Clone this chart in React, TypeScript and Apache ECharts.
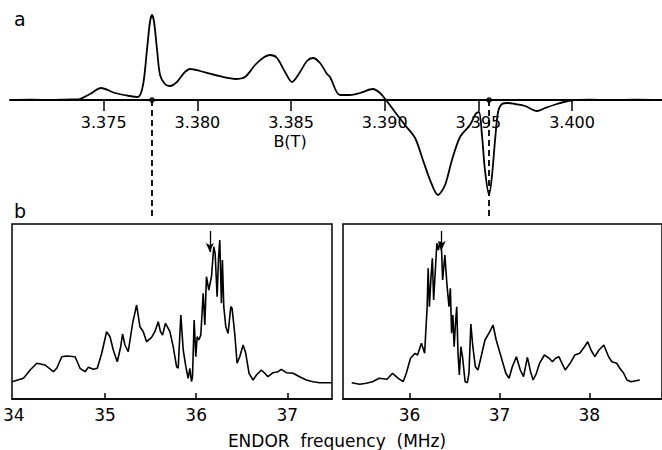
import React, { useEffect, useRef } from 'react';
import * as echarts from 'echarts';

// (a) EPR spectrum: magnetic field (T) and signal
const eprField = [
  3.37, 3.3711, 3.3722, 3.3733, 3.37358, 3.37427, 3.37486, 3.3756, 3.3764, 3.37683,
  3.3771, 3.37731, 3.37747, 3.37758, 3.37769, 3.37785, 3.37801, 3.37827, 3.37854, 3.37891,
  3.37929, 3.37961, 3.38014, 3.38094, 3.38201, 3.38254, 3.38308, 3.3835, 3.38388, 3.38425,
  3.38468, 3.38505, 3.38548, 3.38585, 3.38617, 3.38655, 3.38692, 3.38708, 3.38761, 3.38815,
  3.38868, 3.38937, 3.38975, 3.39007, 3.39055, 3.39108, 3.39162, 3.39204, 3.39242, 3.39284,
  3.39322, 3.39359, 3.39402, 3.39455, 3.39485, 3.39503, 3.39519, 3.39535, 3.39557, 3.39573,
  3.39589, 3.39605, 3.39626, 3.39658, 3.39695, 3.39749, 3.39813, 3.39856, 3.3992, 3.39994,
  3.40096, 3.40202, 3.40336, 3.4048,
];
const eprSignal = [
  0, 0.4, 0, 0.5, 0.5, 6, 12, 7, 4, 3,
  15, 50, 78, 85, 78, 50, 25, 16, 14, 18,
  27, 31, 29, 25, 21, 23, 35, 42, 45, 42,
  28, 18, 28, 39, 42, 37, 26, 23, 5, 5,
  7, 11, 7, 0, -12, -25, -38, -60, -80, -95,
  -85, -60, -37, -25, -14, -12, -35, -70, -95, -75,
  -40, -12, -4, -3, -4, -6, -11, -8, -4, -0.5,
  0.3, 0, 0.4, 0,
];
const eprTicks = [3.375, 3.38, 3.385, 3.39, 3.395, 3.4];
const selectedFields = [3.37758, 3.39557];

// (b) ENDOR spectra
const endorLeftFreq = [
  33.98, 34.106, 34.179, 34.252, 34.343, 34.434, 34.471, 34.526, 34.58, 34.672,
  34.726, 34.781, 34.818, 34.872, 34.916, 34.964, 35.018, 35.055, 35.091, 35.135,
  35.172, 35.193, 35.219, 35.255, 35.303, 35.347, 35.383, 35.42, 35.456, 35.511,
  35.547, 35.584, 35.609, 35.631, 35.664, 35.712, 35.748, 35.785, 35.803, 35.832,
  35.858, 35.887, 35.912, 35.931, 35.949, 35.96, 35.978, 35.996, 36.011, 36.029,
  36.051, 36.077, 36.095, 36.113, 36.139, 36.168, 36.193, 36.208, 36.23, 36.245,
  36.259, 36.277, 36.288, 36.303, 36.325, 36.35, 36.38, 36.394, 36.423, 36.449,
  36.478, 36.515, 36.544, 36.58, 36.624, 36.661, 36.715, 36.752, 36.788, 36.843,
  36.898, 36.934, 36.989, 37.062, 37.135, 37.208, 37.281, 37.354, 37.427, 37.489,
];
const endorLeftInt = [
  17.3, 20.7, 29, 35.7, 34, 27.3, 30.7, 42.3, 43, 42.3,
  30.7, 27.3, 31.7, 29.7, 30.7, 45.7, 67.3, 62.3, 49, 37.3,
  52.3, 65, 54, 47.3, 75.7, 94, 72.3, 67.3, 57.3, 61.7,
  67.3, 77.3, 67.3, 64, 75.7, 67.3, 52.3, 32.3, 30.7, 84,
  49, 32.3, 20.7, 30.7, 17.3, 22.3, 79, 42.3, 62.3, 59,
  64, 105.7, 74, 122.3, 109, 122.3, 152.3, 145.7, 102.3, 140.7,
  159, 95.7, 139, 92.3, 72.3, 65.7, 92.3, 90.7, 65.7, 35.7,
  42.3, 54, 45.7, 25.7, 19, 24, 29, 25.7, 22.3, 26.3,
  27.3, 29.7, 26.3, 25.7, 22.3, 19, 17.3, 16.3, 16.3, 16.3,
];
const endorRightFreq = [
  35.357, 35.446, 35.518, 35.589, 35.661, 35.75, 35.811, 35.875, 35.929, 35.964,
  36.011, 36.061, 36.089, 36.132, 36.168, 36.196, 36.207, 36.221, 36.239, 36.254,
  36.268, 36.286, 36.304, 36.321, 36.339, 36.357, 36.368, 36.393, 36.418, 36.439,
  36.454, 36.468, 36.482, 36.496, 36.511, 36.525, 36.539, 36.554, 36.571, 36.589,
  36.618, 36.643, 36.661, 36.682, 36.704, 36.732, 36.761, 36.796, 36.839, 36.893,
  36.929, 36.964, 37.018, 37.071, 37.107, 37.143, 37.189, 37.232, 37.268, 37.311,
  37.346, 37.375, 37.411, 37.446, 37.5, 37.554, 37.589, 37.625, 37.661, 37.696,
  37.732, 37.786, 37.839, 37.893, 37.946, 37.982, 38.018, 38.061, 38.107, 38.161,
  38.214, 38.25, 38.304, 38.339, 38.382, 38.418, 38.464, 38.518, 38.561,
];
const endorRightInt = [
  16.3, 14.7, 15.7, 17.3, 20.7, 19.7, 25.7, 20.7, 17.3, 25.7,
  40.7, 45.7, 44, 55.7, 45.7, 92.3, 130.7, 92.3, 122.3, 140.7,
  99, 127.3, 155.7, 149, 157.3, 147.3, 119, 144, 112.3, 92.3,
  110.7, 65.7, 84, 52.3, 75.7, 92.3, 45.7, 24, 52.3, 42.3,
  17.3, 16.3, 25.7, 75, 52.3, 32.3, 29, 42.3, 59, 67.3,
  74, 59, 42.3, 25.7, 20.7, 32.3, 42.3, 29, 22.3, 41.7,
  27.3, 19, 25.7, 35.7, 44, 40.7, 37.3, 40.7, 42.3, 35.7,
  29, 35.7, 44, 45.7, 52.3, 57.3, 49, 42.3, 49, 54,
  42.3, 37.3, 35.7, 30.7, 25.7, 19, 17.3, 18.3, 19,
];
const leftTickLabels = [34, 35, 36, 37];
const leftTicks = [35, 36, 37];
const rightTicks = [36, 37, 38];
const arrowFreqs = [36.15, 36.357];

const FONT = 'DejaVu Sans';

function zip(a: number[], b: number[]) {
  return a.map((v, i) => [v, b[i]]);
}

export default function App() {
  const ref = useRef<HTMLDivElement>(null);
  useEffect(() => {
    if (!ref.current) return;
    const chart = echarts.init(ref.current, null, { renderer: 'svg' });
    const black = '#000';
    const option: any = {
      animation: false,
      backgroundColor: '#fff',
      grid: [
        { left: 10, top: 0, width: 652, height: 220, show: false },
        { left: 12, top: 224, width: 320, height: 175, show: true, borderColor: black, borderWidth: 1.5, backgroundColor: 'transparent' },
        { left: 343, top: 224, width: 330, height: 175, show: true, borderColor: black, borderWidth: 1.5, backgroundColor: 'transparent' },
        { left: 10, top: 0, width: 652, height: 100, show: false },
      ],
      xAxis: [
        { type: 'value', gridIndex: 0, min: 3.37, max: 3.4048, show: false },
        {
          type: 'value', gridIndex: 1, min: 33.98, max: 37.49,
          axisLine: { show: true, onZero: false, lineStyle: { color: black, width: 1.5 } },
          axisTick: { show: true, inside: true, length: 6, customValues: leftTicks, lineStyle: { color: black, width: 1.5 } },
          axisLabel: { customValues: leftTickLabels, margin: 7, color: black, fontSize: 17, fontFamily: FONT, formatter: (v: number) => String(Math.round(v)) },
          splitLine: { show: false },
        },
        {
          type: 'value', gridIndex: 2, min: 35.26, max: 38.808,
          axisLine: { show: true, onZero: false, lineStyle: { color: black, width: 1.5 } },
          axisTick: { show: true, inside: true, length: 6, customValues: rightTicks, lineStyle: { color: black, width: 1.5 } },
          axisLabel: { customValues: rightTicks, margin: 7, color: black, fontSize: 17, fontFamily: FONT, formatter: (v: number) => String(Math.round(v)) },
          splitLine: { show: false },
        },
        {
          type: 'value', gridIndex: 3, min: 3.37, max: 3.4048,
          axisLine: { show: true, onZero: false, lineStyle: { color: black, width: 2 } },
          axisTick: { show: true, inside: false, length: 11, customValues: eprTicks, lineStyle: { color: black, width: 1.5 } },
          axisLabel: { customValues: eprTicks, margin: 14, color: black, fontSize: 16, fontFamily: FONT, formatter: (v: number) => v.toFixed(3) },
          splitLine: { show: false },
        },
      ],
      yAxis: [
        { type: 'value', gridIndex: 0, min: -120, max: 100, show: false },
        { type: 'value', gridIndex: 1, min: 0, max: 175, show: false },
        { type: 'value', gridIndex: 2, min: 0, max: 175, show: false },
        { type: 'value', gridIndex: 3, min: 0, max: 1, show: false },
      ],
      series: [
        {
          type: 'line', xAxisIndex: 0, yAxisIndex: 0, data: zip(eprField, eprSignal),
          showSymbol: false, smooth: 0.3, lineStyle: { color: black, width: 1.8 }, silent: true,
          markLine: {
            silent: true, symbol: ['none', 'none'], label: { show: false },
            lineStyle: { color: black, width: 1.8, type: [6, 4] },
            data: selectedFields.map((b) => [{ coord: [b, 0] }, { coord: [b, -118] }]),
          },
        },
        {
          type: 'scatter', xAxisIndex: 0, yAxisIndex: 0,
          data: selectedFields.map((b) => [b, 0]), symbolSize: 6, itemStyle: { color: black }, silent: true,
        },
        {
          type: 'line', xAxisIndex: 1, yAxisIndex: 1, data: zip(endorLeftFreq, endorLeftInt),
          showSymbol: false, lineStyle: { color: black, width: 1.6 }, silent: true,
          markLine: {
            silent: true, symbol: ['none', 'arrow'], symbolSize: [6, 9], label: { show: false },
            lineStyle: { color: black, width: 1.3, type: 'solid' },
            data: [[{ coord: [arrowFreqs[0], 168] }, { coord: [arrowFreqs[0], 147] }]],
          },
        },
        {
          type: 'line', xAxisIndex: 2, yAxisIndex: 2, data: zip(endorRightFreq, endorRightInt),
          showSymbol: false, lineStyle: { color: black, width: 1.6 }, silent: true,
          markLine: {
            silent: true, symbol: ['none', 'arrow'], symbolSize: [6, 9], label: { show: false },
            lineStyle: { color: black, width: 1.3, type: 'solid' },
            data: [[{ coord: [arrowFreqs[1], 168] }, { coord: [arrowFreqs[1], 149] }]],
          },
        },
      ],
      graphic: [
        { type: 'text', left: 14, top: 9, style: { text: 'a', fontSize: 19, fontFamily: FONT, fill: black } },
        { type: 'text', left: 14, top: 201, style: { text: 'b', fontSize: 19, fontFamily: FONT, fill: black } },
        { type: 'text', x: 290, y: 141, style: { text: 'B(T)', fontSize: 16, fontFamily: FONT, fill: black, align: 'center', verticalAlign: 'middle' } },
        { type: 'text', x: 337, y: 441, style: { text: 'ENDOR  frequency  (MHz)', fontSize: 17, fontFamily: FONT, fill: black, align: 'center', verticalAlign: 'middle' } },
      ],
    };
    chart.setOption(option);
    return () => chart.dispose();
  }, []);
  return <div ref={ref} style={{ position: 'fixed', left: 0, top: 0, width: 662, height: 450 }} />;
}
